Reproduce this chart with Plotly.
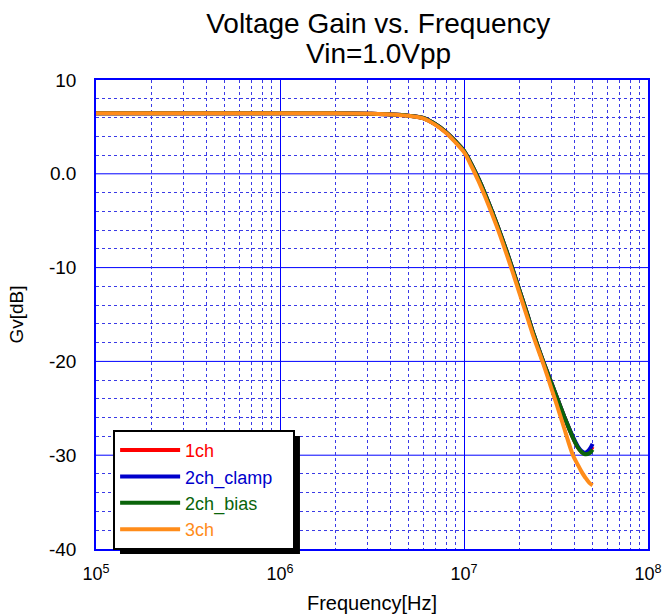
import plotly.graph_objects as go

freq = [1e5, 1e6, 2e6, 3e6, 4e6, 5e6, 6e6, 7e6, 8e6, 9e6, 1e7, 1.1e7, 1.2e7, 1.3e7, 1.5e7,
        1.7e7, 1.85e7, 2e7, 2.2e7, 2.4e7, 2.7e7, 3e7, 3.25e7, 3.5e7, 3.9e7, 4.15e7, 4.35e7,
        4.55e7, 4.8e7, 5e7]

gv_1ch = [6.45, 6.45, 6.45, 6.4, 6.33, 6.2, 5.95, 5.28, 4.43, 3.45, 2.45, 0.97, -0.55, -2.13, -5.23,
          -8.2, -10.35, -12.39, -14.89, -17.21, -20.07, -22.4, -24.2, -25.85, -28.1, -29.15, -29.65,
          -29.85, -29.6, -29.1]
gv_2ch_clamp = [6.45, 6.45, 6.45, 6.4, 6.33, 6.2, 5.95, 5.28, 4.43, 3.45, 2.45, 0.97, -0.55, -2.13, -5.23,
                -8.2, -10.35, -12.39, -14.89, -17.21, -20.07, -22.4, -24.2, -25.85, -28.0, -29.05, -29.55,
                -29.75, -29.4, -28.8]
gv_2ch_bias = [6.45, 6.45, 6.45, 6.4, 6.33, 6.2, 5.95, 5.28, 4.43, 3.45, 2.45, 0.97, -0.55, -2.13, -5.23,
               -8.2, -10.35, -12.39, -14.89, -17.21, -20.07, -22.4, -24.2, -25.85, -28.1, -29.15, -29.65,
               -29.9, -29.8, -29.4]
gv_3ch = [6.45, 6.45, 6.45, 6.4, 6.33, 6.18, 5.92, 5.22, 4.35, 3.33, 2.3, 0.78, -0.8, -2.4, -5.5,
          -8.5, -10.65, -12.7, -15.2, -17.5, -20.3, -23.0, -25.1, -27.1, -29.95, -31.0, -31.75,
          -32.35, -32.95, -33.2]

series = [
    ("1ch", gv_1ch, "#ff0000"),
    ("2ch_clamp", gv_2ch_clamp, "#0000cc"),
    ("2ch_bias", gv_2ch_bias, "#0a640a"),
    ("3ch", gv_3ch, "#ff8c1a"),
]

x_major = [1e5, 1e6, 1e7, 1e8]
x_major_text = ["10<sup>5</sup>", "10<sup>6</sup>", "10<sup>7</sup>", "10<sup>8</sup>"]
x_minor = [m * d for d in [1e5, 1e6, 1e7] for m in range(2, 10)]
y_major = [10, 0, -10, -20, -30, -40]
y_major_text = ["10", "0.0", "-10", "-20", "-30", "-40"]
y_minor = [v for v in range(-38, 10, 2) if v % 10 != 0]

title_line1 = "Voltage Gain vs. Frequency"
title_line2 = "Vin=1.0Vpp"

fig = go.Figure()
for name, vals, color in series:
    label = name + ("\u00a0\u00a0\u00a0" if name == "2ch_clamp" else "")
    fig.add_trace(go.Scatter(
        x=freq, y=vals, mode="lines", line=dict(color=color, width=4, shape="spline"),
        name=f"<span style='color:{color}'>{label}</span>",
    ))

grid_major = "#0000ff"
grid_minor = "#3a3ae6"

# solid major horizontal grid lines, placed through the y axis
for v in y_major[1:-1]:
    fig.add_hline(y=v, line=dict(color=grid_major, width=1), layer="below")

# legend drop shadow
fig.add_shape(type="rect", xref="paper", yref="paper",
              x0=0.0435, x1=0.3695, y0=-0.0107, y1=0.241,
              fillcolor="black", line=dict(width=0), layer="above")

fig.add_annotation(text=title_line2, xref="paper", yref="paper", x=0.511, y=1.056,
                   xanchor="center", yanchor="middle", showarrow=False,
                   font=dict(size=28, color="black"))

fig.update_layout(
    width=667, height=614,
    margin=dict(l=96, r=19, t=80, b=65),
    paper_bgcolor="white", plot_bgcolor="white",
    font=dict(family="Liberation Sans, Arial, sans-serif", color="black", size=17),
    title=dict(text=title_line1, x=0.567, xanchor="center",
               xref="container", yref="container", y=0.962, yanchor="middle", font=dict(size=28)),
    showlegend=True,
    legend=dict(x=0.031, y=0.254, xanchor="left", yanchor="top",
                bgcolor="white", bordercolor="black", borderwidth=2,
                font=dict(size=18), itemwidth=60, tracegroupgap=0),
    xaxis=dict(type="log", range=[5, 8], tickmode="array", tickvals=x_major, ticktext=x_major_text,
               showgrid=True, gridcolor=grid_major, gridwidth=1,
               showline=True, linecolor=grid_major, linewidth=1.5, mirror=True,
               ticks="", tickfont=dict(size=18), automargin=False, ticklabelstandoff=8,
               minor=dict(tickmode="array", tickvals=x_minor, showgrid=True, gridcolor=grid_minor,
                          griddash="3px,3px", gridwidth=1),
               title=dict(text="Frequency[Hz]", font=dict(size=20), standoff=14),
               zeroline=False),
    yaxis=dict(range=[-40, 10], tickmode="array", tickvals=y_major, ticktext=y_major_text,
               showgrid=False,
               showline=True, linecolor=grid_major, linewidth=1.5, mirror=True,
               ticks="", tickfont=dict(size=19), automargin=False, ticklabelstandoff=14,
               minor=dict(tickmode="array", tickvals=y_minor, showgrid=True, gridcolor=grid_minor,
                          griddash="3px,3px", gridwidth=1),
               title=dict(text="Gv[dB]", font=dict(size=19), standoff=20),
               zeroline=False),
)

fig.write_html("out.html", config={"displayModeBar": False},
               post_script="document.body.style.margin='0';document.body.style.overflow='hidden';")
